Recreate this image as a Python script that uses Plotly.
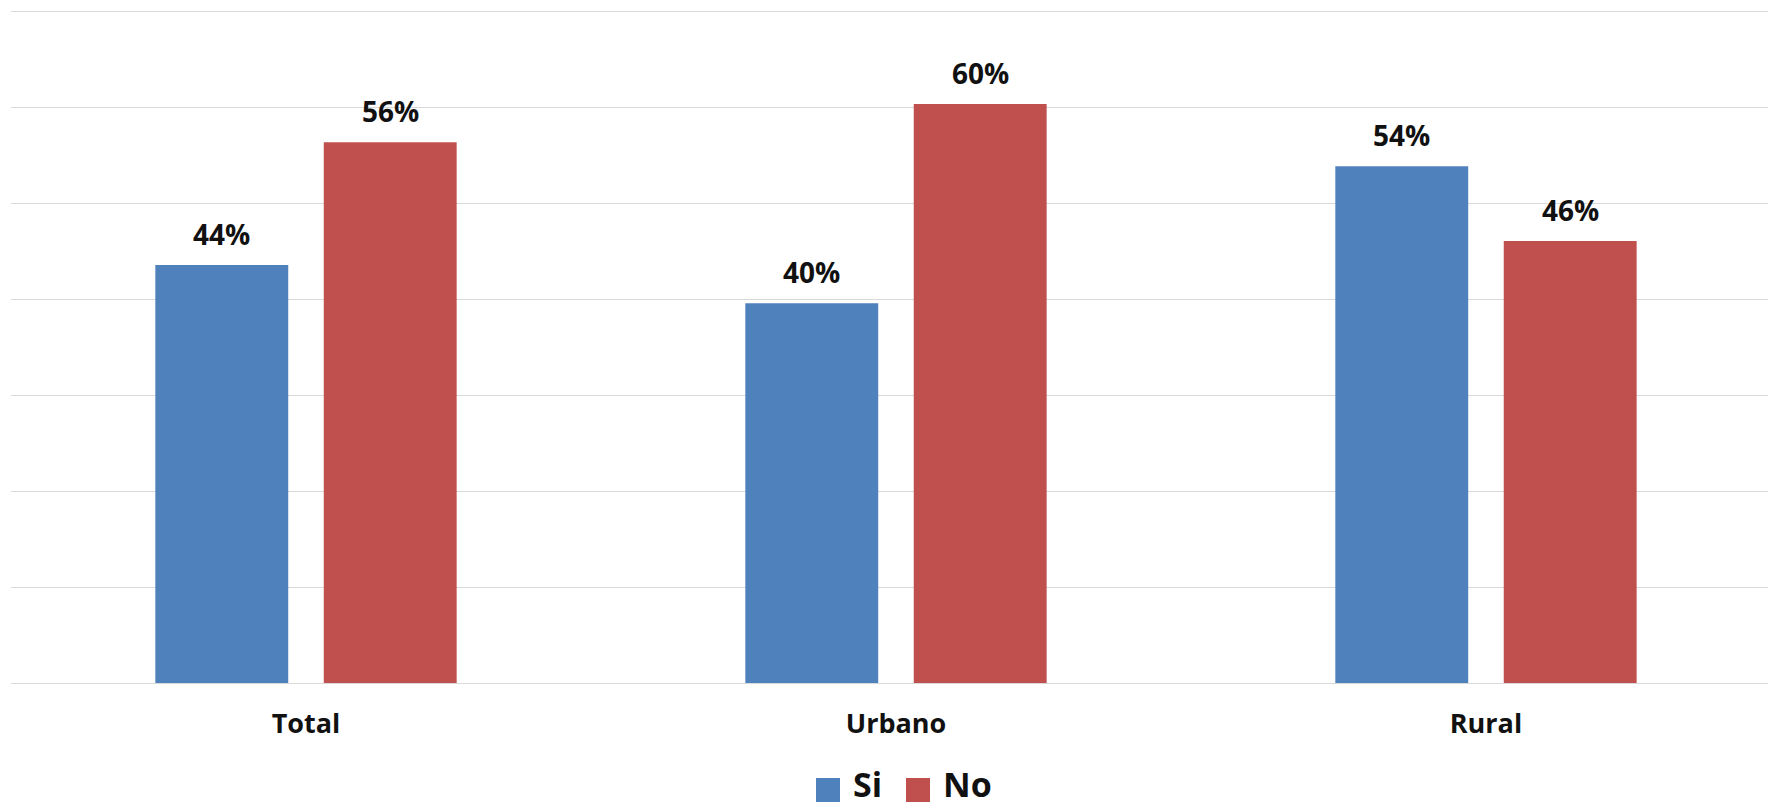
import plotly.graph_objects as go

categories = ["Total", "Urbano", "Rural"]
si_values = [0.436, 0.396, 0.539]
no_values = [0.564, 0.604, 0.461]
series_names = ["Si", "No"]
colors = ["#4F81BD", "#C0504D"]

W, H = 1768, 809
ML, MR, MT, MB = 11, 0, 10, 126
plot_w = W - ML - MR
plot_h = H - MT - MB

fig = go.Figure()
for name, vals, col in zip(series_names, [si_values, no_values], colors):
    fig.add_trace(go.Bar(
        x=categories, y=vals, name=name,
        marker=dict(color=col, line=dict(width=0)),
        showlegend=False,
    ))

bargap = 0.429
bargroupgap = 0.211
group_w = 1 - bargap
offsets = [-group_w / 4, group_w / 4]

annotations = []
for vals, off in zip([si_values, no_values], offsets):
    for i, v in enumerate(vals):
        annotations.append(dict(
            x=i + off, y=v, xref="x", yref="y",
            text=f"{round(v * 100)}%", showarrow=False,
            yanchor="bottom", yshift=10,
            font=dict(family="Open Sans", size=28, color="#111111", weight="bold"),
        ))

def px_to_paper_x(px):
    return (px - ML) / plot_w
def px_to_paper_y(py):
    return (H - MB - py) / plot_h

shapes = []
leg_items = [(816, 852), (906, 942)]
for (sx, tx), name, col in zip(leg_items, series_names, colors):
    shapes.append(dict(
        type="rect", xref="paper", yref="paper",
        x0=px_to_paper_x(sx), x1=px_to_paper_x(sx + 24),
        y0=px_to_paper_y(802), y1=px_to_paper_y(778),
        fillcolor=col, line=dict(width=0),
    ))
    annotations.append(dict(
        x=px_to_paper_x(tx), y=px_to_paper_y(808), xref="paper", yref="paper",
        text=name, showarrow=False, xanchor="left", yanchor="bottom",
        borderpad=0,
        font=dict(family="Open Sans", size=34, color="#111111", weight="bold"),
    ))

fig.update_layout(
    width=W, height=H,
    margin=dict(l=ML, r=MR, t=MT, b=MB, pad=0),
    barmode="group", bargap=bargap, bargroupgap=bargroupgap,
    plot_bgcolor="white", paper_bgcolor="white",
    showlegend=False,
    annotations=annotations,
    shapes=shapes,
    xaxis=dict(
        type="category", range=[-0.5, 2.478],
        showgrid=False, showline=False, zeroline=False, ticks="",
        ticklabelstandoff=22,
        tickfont=dict(family="Open Sans", size=27, color="#111111", weight="bold"),
    ),
    yaxis=dict(
        range=[0, 0.702], dtick=0.1, tick0=0,
        showgrid=True, gridcolor="#D9D9D9", gridwidth=1.4,
        zeroline=True, zerolinecolor="#D9D9D9", zerolinewidth=1.4,
        showticklabels=False, showline=False, ticks="",
    ),
)

fig.write_html(
    "out.html",
    config={"displayModeBar": False},
    post_script="document.body.style.margin='0px';document.body.style.overflow='hidden';",
)
